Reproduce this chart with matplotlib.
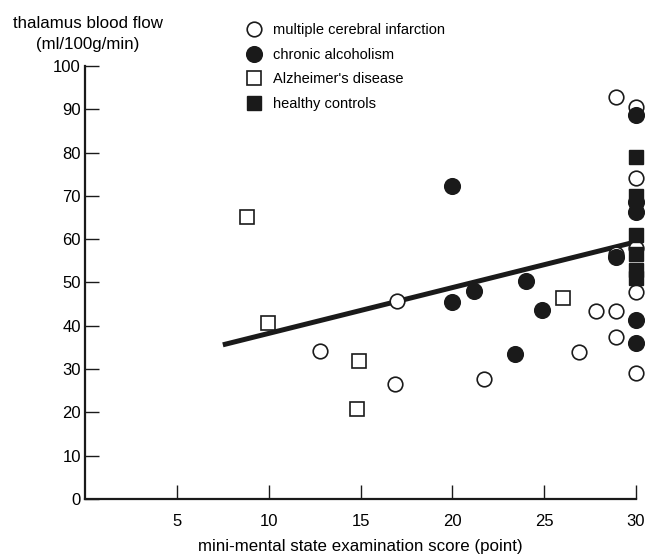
import matplotlib
matplotlib.use('Agg')
import matplotlib.pyplot as plt

plt.rcParams['font.family'] = ['Liberation Sans', 'DejaVu Sans']

# multiple cerebral infarction (open circles)
mci_x = [28.9, 30, 30, 17, 12.8, 16.9, 21.7, 26.9, 27.8, 28.9, 28.9, 30, 30, 28.9, 30]
mci_y = [92.9, 90.6, 74.1, 45.7, 34.2, 26.6, 27.6, 34.0, 43.5, 43.5, 37.5, 47.7, 29.0, 56.6, 58.0]

# chronic alcoholism (filled circles)
alc_x = [20, 20, 21.2, 24.0, 24.9, 23.4, 28.9, 30, 30, 30, 30, 30]
alc_y = [72.3, 45.6, 48.0, 50.3, 43.6, 33.4, 55.9, 88.7, 68.5, 66.2, 41.3, 36.0]

# Alzheimer's disease (open squares)
alz_x = [8.8, 9.95, 14.9, 14.8, 26.0]
alz_y = [65.2, 40.6, 31.9, 20.7, 46.4]

# healthy controls (filled squares)
hc_x = [30, 30, 30, 30, 30, 30]
hc_y = [79.1, 70.0, 61.0, 56.5, 53.0, 51.0]

# regression line end points
line_x = [7.5, 30]
line_y = [35.6, 59.4]

fig = plt.figure(figsize=(6.45, 5.55), dpi=100)
ax = fig.add_axes([0.132, 0.101, 0.854, 0.780])

ax.plot(line_x, line_y, color='#1a1a1a', lw=3.6, solid_capstyle='butt', zorder=2)

ms = 10.5
ax.plot(mci_x, mci_y, 'o', ms=ms, mfc='white', mec='#1a1a1a', mew=1.2,
        ls='none', clip_on=False, zorder=3, label='multiple cerebral infarction')
ax.plot(alc_x, alc_y, 'o', ms=ms + 0.8, mfc='#1a1a1a', mec='#1a1a1a', mew=1.0,
        ls='none', clip_on=False, zorder=4, label='chronic alcoholism')
ax.plot(alz_x, alz_y, 's', ms=ms - 0.5, mfc='white', mec='#1a1a1a', mew=1.2,
        ls='none', clip_on=False, zorder=3, label="Alzheimer's disease")
ax.plot(hc_x, hc_y, 's', ms=ms - 0.5, mfc='#1a1a1a', mec='#1a1a1a', mew=1.0,
        ls='none', clip_on=False, zorder=4, label='healthy controls')

ax.set_xlim(0, 30)
ax.set_ylim(0, 100)
ax.set_xticks([5, 10, 15, 20, 25, 30])
ax.set_yticks(range(0, 101, 10))
ax.tick_params(direction='in', length=10, width=1.0, labelsize=12, color='#1a1a1a')
ax.tick_params(axis='x', pad=11)
ax.tick_params(axis='y', pad=3)
for s in ['top', 'right']:
    ax.spines[s].set_visible(False)
for s in ['left', 'bottom']:
    ax.spines[s].set_linewidth(1.6)
    ax.spines[s].set_color('#1a1a1a')

ax.set_xlabel('mini-mental state examination score (point)', fontsize=12.2, labelpad=7)
fig.text(88 / 645, 1 - 34 / 555, 'thalamus blood flow\n(ml/100g/min)', ha='center',
         va='center', fontsize=12.2, linespacing=1.45)

fig.legend(loc='upper left', bbox_to_anchor=(0.382, 0.958), frameon=False,
           fontsize=10.5, handlelength=1.1, handletextpad=0.75, labelspacing=0.72,
           borderpad=0, borderaxespad=0, numpoints=1)

fig.savefig('out.png', dpi=100)
